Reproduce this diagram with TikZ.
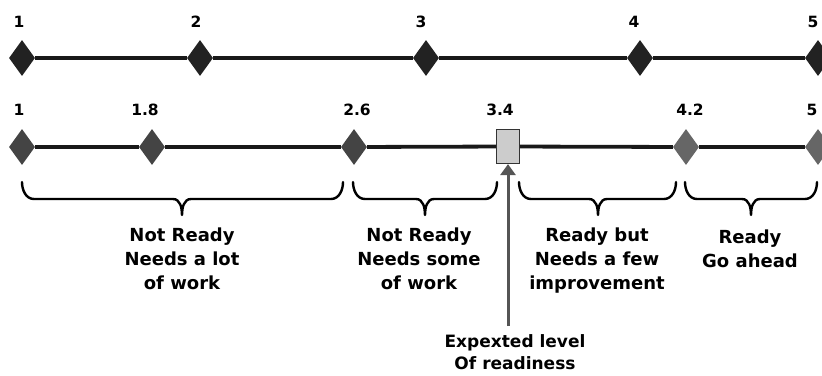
\documentclass[tikz,border=0pt]{standalone}
\usepackage{fontspec}
\setmainfont{DejaVu Sans}
\usetikzlibrary{shapes.geometric,arrows.meta}
\definecolor{dtop}{HTML}{222222}
\definecolor{dmid}{HTML}{444444}
\definecolor{dlight}{HTML}{666666}
\definecolor{rectfill}{HTML}{CCCCCC}
\definecolor{arrowgray}{HTML}{555555}
\tikzset{
  dia/.style={diamond, draw=none, fill=#1, minimum width=26pt, minimum height=36pt, inner sep=0pt},
  axis/.style={line width=3.8pt, draw=black!90},
  num/.style={font=\fontsize{15.5}{18}\selectfont\bfseries, inner sep=0pt},
  lbl/.style={font=\fontsize{18}{24}\selectfont\bfseries, align=center, inner sep=0pt},
  bracestyle/.style={line width=2.4pt, line cap=round, line join=round},
}
\newcommand\mybrace[3]{%
  \draw[bracestyle] (#1,182) to[out=-90,in=180] ({#1+12},199) -- ({#2-9},199)
     to[out=0,in=90] (#2,215) to[out=90,in=180] ({#2+9},199) -- ({#3-12},199)
     to[out=0,in=-90] (#3,182);}
\begin{document}
\begin{tikzpicture}[x=1pt,y=-1pt]
\useasboundingbox (0,0) rectangle (822,375);
% top row
\node[dia=dtop] (t1) at (22,58) {};
\node[dia=dtop] (t2) at (200,58) {};
\node[dia=dtop] (t3) at (426,58) {};
\node[dia=dtop] (t4) at (640,58) {};
\node[dia=dtop] (t5) at (818,58) {};
\draw[axis] (t1) -- (t2) (t2) -- (t3) (t3) -- (t4) (t4) -- (t5);
\node[num] (n1) at (19,22) {1};
\node[num] (n2) at (196,22) {2};
\node[num] (n3) at (421,22) {3};
\node[num] (n4) at (634,22) {4};
\node[num] (n5) at (813,22) {5};
% second row
\node[dia=dmid] (b1) at (22,147) {};
\node[dia=dmid] (b2) at (152,147) {};
\node[dia=dmid] (b3) at (354,147) {};
\node[draw=black!80, line width=1.2pt, fill=rectfill, minimum width=23pt, minimum height=34pt, inner sep=0pt] (r) at (508,146.5) {};
\node[dia=dlight] (b5) at (686,147) {};
\node[dia=dlight] (b6) at (818,147) {};
\draw[axis] (b1) -- (b2) (b2) -- (b3) (b3) -- (r) (r) -- (b5) (b5) -- (b6);
\node[num] (m1) at (19,110) {1};
\node[num] (m2) at (145,110) {1.8};
\node[num] (m3) at (357,110) {2.6};
\node[num] (m4) at (500,110) {3.4};
\node[num] (m5) at (690,110) {4.2};
\node[num] (m6) at (812,110) {5};
% braces
\mybrace{22}{182}{343}
\mybrace{353}{425}{497}
\mybrace{519}{598}{676}
\mybrace{685}{751}{817}
% labels
\node[lbl] (l1) at (182,259) {Not Ready\\Needs a lot\\of work};
\node[lbl] (l2) at (419,259) {Not Ready\\Needs some\\of work};
\node[lbl] (l3) at (597,261) {Ready but\\Needs a few\\improvement};
\node[lbl] (l4) at (750,249) {Ready\\Go ahead};
% expected level
\node[font=\fontsize{17}{21.5}\selectfont\bfseries, align=center, inner sep=0pt] (ex) at (515,352) {Expexted level\\Of readiness};
\coordinate (arrbot) at (508,326);
\draw[line width=3pt, draw=arrowgray, -{Triangle[width=15pt,length=11pt]}] (arrbot) -- (r.south);
\end{tikzpicture}
\end{document}
